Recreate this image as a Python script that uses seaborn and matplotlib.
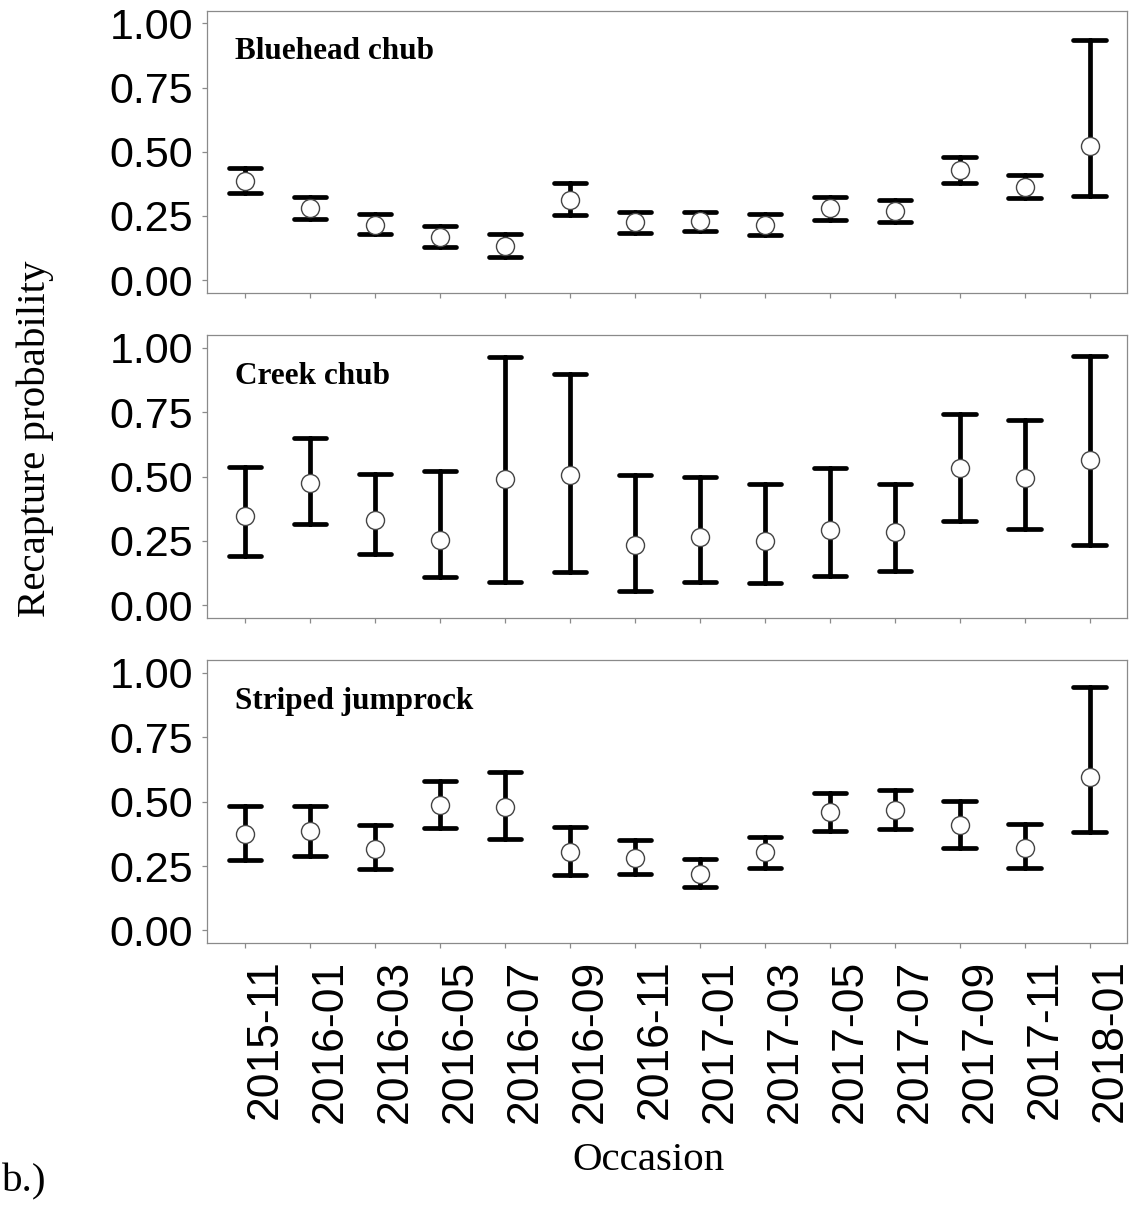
import matplotlib
matplotlib.use("Agg")
import matplotlib.pyplot as plt
import numpy as np
import pandas as pd
import seaborn as sns

# occasions (x categories)
occasions = ["2015-11", "2016-01", "2016-03", "2016-05", "2016-07", "2016-09", "2016-11",
             "2017-01", "2017-03", "2017-05", "2017-07", "2017-09", "2017-11", "2018-01"]
species = ["Bluehead chub", "Creek chub", "Striped jumprock"]

# recapture probability estimates with lower / upper confidence limits
bluehead_est = [0.387, 0.281, 0.214, 0.168, 0.133, 0.314, 0.226, 0.231, 0.214, 0.280, 0.270, 0.428, 0.363, 0.523]
bluehead_lo = [0.340, 0.240, 0.178, 0.130, 0.090, 0.252, 0.182, 0.190, 0.175, 0.236, 0.227, 0.379, 0.319, 0.329]
bluehead_hi = [0.436, 0.324, 0.258, 0.210, 0.178, 0.378, 0.267, 0.267, 0.256, 0.324, 0.314, 0.479, 0.409, 0.936]

creek_est = [0.348, 0.475, 0.333, 0.255, 0.491, 0.508, 0.236, 0.264, 0.251, 0.294, 0.284, 0.534, 0.495, 0.563]
creek_lo = [0.192, 0.317, 0.198, 0.109, 0.091, 0.131, 0.054, 0.092, 0.087, 0.114, 0.135, 0.326, 0.295, 0.236]
creek_hi = [0.539, 0.651, 0.510, 0.523, 0.963, 0.899, 0.508, 0.500, 0.473, 0.534, 0.473, 0.744, 0.721, 0.967]

jumprock_est = [0.375, 0.385, 0.318, 0.489, 0.480, 0.305, 0.282, 0.221, 0.304, 0.459, 0.468, 0.409, 0.322, 0.596]
jumprock_lo = [0.273, 0.291, 0.237, 0.396, 0.356, 0.215, 0.218, 0.170, 0.244, 0.388, 0.393, 0.319, 0.241, 0.384]
jumprock_hi = [0.485, 0.485, 0.411, 0.579, 0.614, 0.402, 0.350, 0.278, 0.362, 0.532, 0.547, 0.502, 0.414, 0.947]

series = {
    "Bluehead chub": (bluehead_est, bluehead_lo, bluehead_hi),
    "Creek chub": (creek_est, creek_lo, creek_hi),
    "Striped jumprock": (jumprock_est, jumprock_lo, jumprock_hi),
}

# long table: lo / est / hi rows; median gives the estimate, 100% interval gives the limits
rows = []
for sp in species:
    est, lo, hi = series[sp]
    for occ, e, l, h in zip(occasions, est, lo, hi):
        for v in (l, e, h):
            rows.append((sp, occ, v))
df = pd.DataFrame(rows, columns=["species", "occasion", "p"])

sns.set_style("white")
plt.rcParams["font.family"] = ["Liberation Sans", "DejaVu Sans"]
plt.rcParams.update({"text.color": "black", "axes.labelcolor": "black",
                     "xtick.color": "black", "ytick.color": "black"})

fig = plt.figure(figsize=(11.3, 12.08), dpi=100)
boxes = [
    [0.1829, 0.7575, 0.8142, 0.2337],
    [0.1829, 0.4882, 0.8142, 0.2345],
    [0.1829, 0.2191, 0.8142, 0.2345],
]

for i, sp in enumerate(species):
    ax = fig.add_axes(boxes[i])
    sns.pointplot(
        data=df[df["species"] == sp], x="occasion", y="p", order=occasions,
        estimator="median", errorbar=("pi", 100),
        capsize=0.5, linestyle="none", markers="o",
        color="black", markersize=13, markerfacecolor="white",
        markeredgecolor="#444444", markeredgewidth=1.0, zorder=3,
        err_kws={"linewidth": 3.4, "color": "black", "zorder": 2},
        ax=ax,
    )
    ax.set_xlim(-0.59, 13.57)
    ax.set_ylim(-0.05, 1.05)
    ax.set_yticks([0, 0.25, 0.5, 0.75, 1.0])
    ax.set_yticklabels(["0.00", "0.25", "0.50", "0.75", "1.00"])
    ax.set_xlabel("")
    ax.set_ylabel("")
    for s in ax.spines.values():
        s.set_visible(True)
        s.set_color("#8a8a8a")
        s.set_linewidth(0.9)
    ax.tick_params(axis="both", which="major", color="#8a8a8a", length=3.6, width=0.9,
                   labelsize=31, labelcolor="black", bottom=True, left=True)
    ax.tick_params(axis="y", pad=6)
    ax.text(0.031, 0.855, sp, transform=ax.transAxes, fontfamily="Liberation Serif",
            fontweight="bold", fontsize=22.5, va="center", ha="left", color="black")
    if i < 2:
        ax.tick_params(axis="x", labelbottom=False)
    else:
        ax.tick_params(axis="x", pad=8)
        plt.setp(ax.get_xticklabels(), rotation=90, ha="right", va="top",
                 rotation_mode="anchor", fontsize=32)

fig.text(0.031, 0.6366, "Recapture probability", rotation=90, ha="center", va="center",
         fontfamily="Liberation Serif", fontsize=29.5, color="black")
fig.text(0.574, 0.0397, "Occasion", ha="center", va="center",
         fontfamily="Liberation Serif", fontsize=29.5, color="black")
fig.text(0.002, 0.022, "b.)", ha="left", va="center",
         fontfamily="Liberation Serif", fontsize=29.5, color="black")

fig.savefig("out.png", dpi=100)
